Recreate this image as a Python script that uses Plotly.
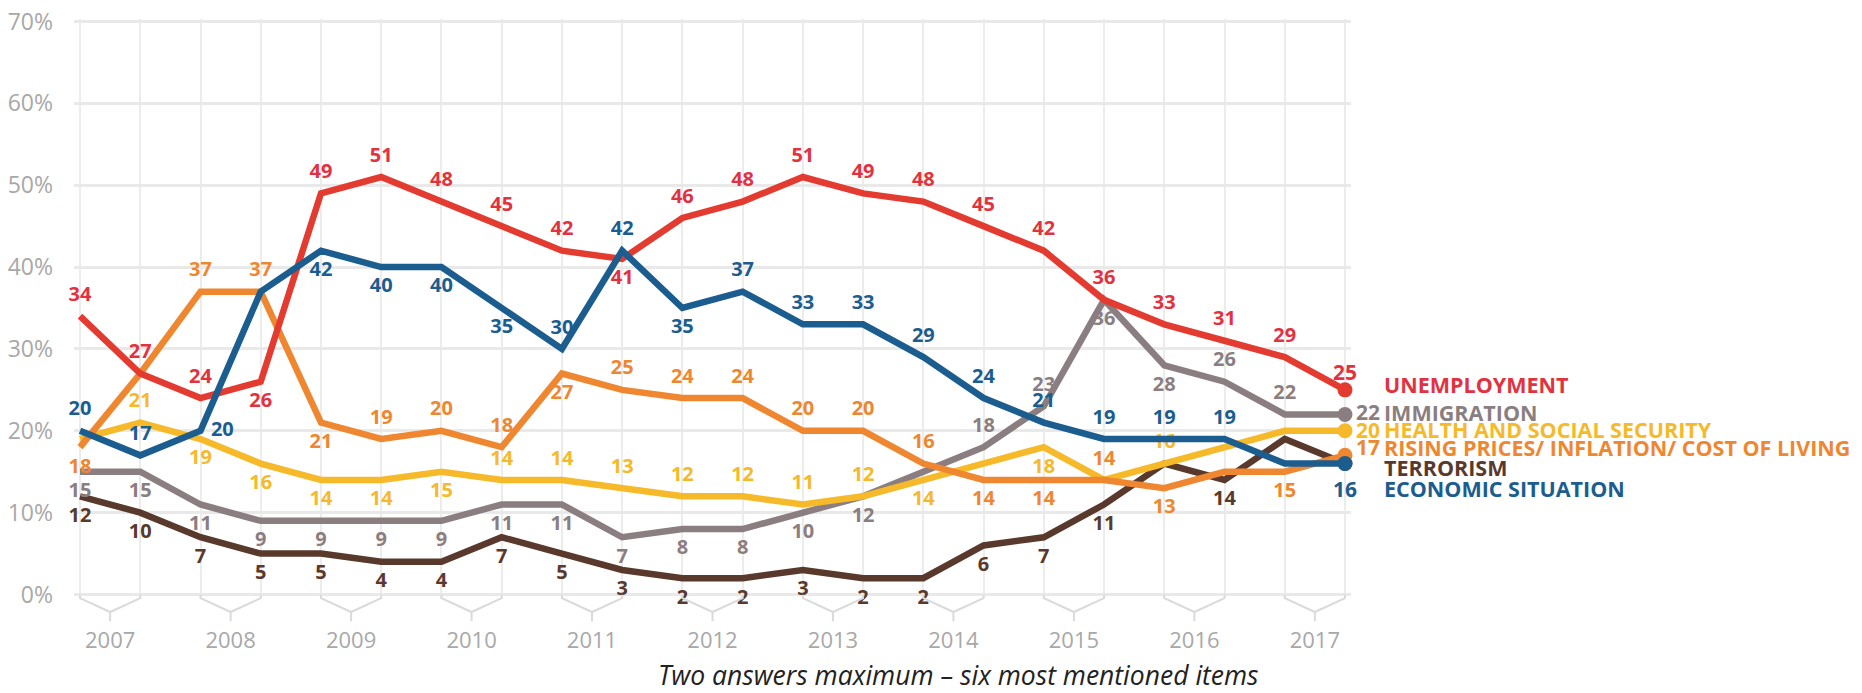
import plotly.graph_objects as go

# ---------------- data ----------------
years = ["2007", "2008", "2009", "2010", "2011", "2012",
         "2013", "2014", "2015", "2016", "2017"]
waves = [f"{s} {y}" for y in years for s in ("Spring", "Autumn")]

unemployment = [34, 27, 24, 26, 49, 51, 48, 45, 42, 41, 46, 48, 51, 49, 48, 45, 42, 36, 33, 31, 29, 25]
immigration  = [15, 15, 11, 9, 9, 9, 9, 11, 11, 7, 8, 8, 10, 12, 15, 18, 23, 36, 28, 26, 22, 22]
health       = [19, 21, 19, 16, 14, 14, 15, 14, 14, 13, 12, 12, 11, 12, 14, 16, 18, 14, 16, 18, 20, 20]
rising       = [18, 27, 37, 37, 21, 19, 20, 18, 27, 25, 24, 24, 20, 20, 16, 14, 14, 14, 13, 15, 15, 17]
terrorism    = [12, 10, 7, 5, 5, 4, 4, 7, 5, 3, 2, 2, 3, 2, 2, 6, 7, 11, 16, 14, 19, 16]
economic     = [20, 17, 20, 37, 42, 40, 40, 35, 30, 42, 35, 37, 33, 33, 29, 24, 21, 19, 19, 19, 16, 16]

names = ["UNEMPLOYMENT", "IMMIGRATION", "HEALTH AND SOCIAL SECURITY",
         "RISING PRICES/ INFLATION/ COST OF LIVING", "TERRORISM", "ECONOMIC SITUATION"]

y_ticks = [0, 10, 20, 30, 40, 50, 60, 70]
caption = "Two answers maximum – six most mentioned items"

# ---------------- style ----------------
FONT = "Open Sans"
col = {
    "UNEMPLOYMENT": "#e43b31",
    "IMMIGRATION": "#8b7e81",
    "HEALTH AND SOCIAL SECURITY": "#f6b929",
    "RISING PRICES/ INFLATION/ COST OF LIVING": "#ee8730",
    "TERRORISM": "#5a392d",
    "ECONOMIC SITUATION": "#1b5d8e",
}
txtcol = dict(col)
txtcol["UNEMPLOYMENT"] = "#e2323f"

# label placement per point: T=top, B=bottom, R=right, -=none
label_pos = {
    "UNEMPLOYMENT": "TTTBTTTTTBTTTTTTTTTTT-",
    "IMMIGRATION": "BBBBBBBBBBBBBB-TTBBTT-",
    "HEALTH AND SOCIAL SECURITY": "-TBBBBBTTTTTTTB-B-T---",
    "RISING PRICES/ INFLATION/ COST OF LIVING": "B-TTBTTTBTTTTTTBBTB-B-",
    "TERRORISM": "BBBBBBBBBBBBBBBBBB-B--",
    "ECONOMIC SITUATION": "TTR-BBBBTTBTTTTTTTTT--",
}
posmap = {"T": "top center", "B": "bottom center", "R": "middle right", "-": "top center"}

series = {
    "UNEMPLOYMENT": unemployment,
    "IMMIGRATION": immigration,
    "HEALTH AND SOCIAL SECURITY": health,
    "RISING PRICES/ INFLATION/ COST OF LIVING": rising,
    "TERRORISM": terrorism,
    "ECONOMIC SITUATION": economic,
}
draw_order = ["TERRORISM", "IMMIGRATION", "HEALTH AND SOCIAL SECURITY",
              "RISING PRICES/ INFLATION/ COST OF LIVING", "UNEMPLOYMENT", "ECONOMIC SITUATION"]

x = list(range(len(waves)))
n = len(x)

fig = go.Figure()
for name in draw_order:
    vals = series[name]
    c = col[name]
    pos = label_pos[name]
    texts = [("" if p == "-" else str(v)) for v, p in zip(vals, pos)]
    fig.add_trace(go.Scatter(
        x=x, y=vals, name=name, customdata=waves,
        mode="lines+markers+text",
        line=dict(color=c, width=6.5),
        marker=dict(size=15, color=["rgba(0,0,0,0)"] * (n - 1) + [c], line=dict(width=0)),
        text=texts,
        textposition=[posmap[p] for p in pos],
        textfont=dict(family=FONT, size=20, color=txtcol[name], weight=700),
        cliponaxis=False,
        hovertemplate="%{customdata}: %{y}%<extra>" + name + "</extra>",
    ))

# end labels (value + name)
end_style = {
    # name: (show value, value xshift, value yshift, value anchor, name yshift)
    "UNEMPLOYMENT": (True, 0, 18, "center", 5),
    "IMMIGRATION": (True, 9, 2, "left", 2),
    "HEALTH AND SOCIAL SECURITY": (True, 9, 1, "left", 1),
    "RISING PRICES/ INFLATION/ COST OF LIVING": (True, 9, 8, "left", 8),
    "TERRORISM": (False, 0, 0, "left", -4),
    "ECONOMIC SITUATION": (True, 0, -25, "center", -25),
}
anns = []
for name in names:
    vals = series[name]
    show, vx, vy, va, ny = end_style[name]
    c = txtcol[name]
    if show:
        anns.append(dict(x=x[-1], y=vals[-1], xref="x", yref="y", text=str(vals[-1]),
                         showarrow=False, xanchor=va, yanchor="middle", xshift=vx, yshift=vy,
                         font=dict(family=FONT, size=21, color=c, weight=700)))
    anns.append(dict(x=x[-1], y=vals[-1], xref="x", yref="y", text=name,
                     showarrow=False, xanchor="left", yanchor="middle", xshift=37, yshift=ny,
                     font=dict(family=FONT, size=21.5, color=c, weight=700)))

x_lo, x_hi = -0.1, x[-1] + 0.1
y_lo, y_hi = -0.3, 70.3


def px(v):
    return (v - x_lo) / (x_hi - x_lo)


# brackets grouping the two waves of each year
shapes = []
for k in range(len(years)):
    a, b = px(2 * k), px(2 * k + 1)
    m = (a + b) / 2
    path = (f"M{a},0.004 L{a},-0.002 L{m},-0.026 L{b},-0.002 L{b},0.004 "
            f"M{m},-0.026 L{m},-0.042")
    shapes.append(dict(type="path", xref="paper", yref="paper", path=path,
                       line=dict(color="#dadada", width=2)))

anns.append(dict(x=0.693, y=-0.135, xref="paper", yref="paper", text="<i>" + caption + "</i>",
                 showarrow=False, xanchor="center", yanchor="middle",
                 font=dict(family=FONT, size=26.5, color="#222222")))

# the page body adds an 8px offset; the figure is sized/placed to compensate
fig.update_layout(
    width=1854, height=685,
    margin=dict(l=66, r=511, t=11, b=96),
    plot_bgcolor="white", paper_bgcolor="white",
    showlegend=False,
    shapes=shapes,
    annotations=anns,
    font=dict(family=FONT),
)
fig.update_xaxes(
    automargin=False,
    range=[x_lo, x_hi],
    tickmode="array",
    tickvals=[2 * k + 0.5 for k in range(len(years))],
    ticktext=years,
    showgrid=False, zeroline=False, showline=False, ticks="",
    ticklabelstandoff=28,
    ticklabeloverflow="allow",
    tickfont=dict(family=FONT, size=22, color="#a8a8a8"),
    minor=dict(tickmode="array", tickvals=x, showgrid=True,
               gridcolor="#ececec", gridwidth=2, ticks=""),
)
fig.update_yaxes(
    automargin=False,
    range=[y_lo, y_hi],
    tickmode="array",
    tickvals=y_ticks,
    ticktext=[f"{t}%" for t in y_ticks],
    showgrid=True, gridcolor="#e9e9e9", gridwidth=3,
    zeroline=False, showline=False, ticks="",
    ticklabelstandoff=20,
    ticklabeloverflow="allow",
    tickfont=dict(family=FONT, size=23, color="#a8a8a8"),
)

fig.write_html("out.html")
